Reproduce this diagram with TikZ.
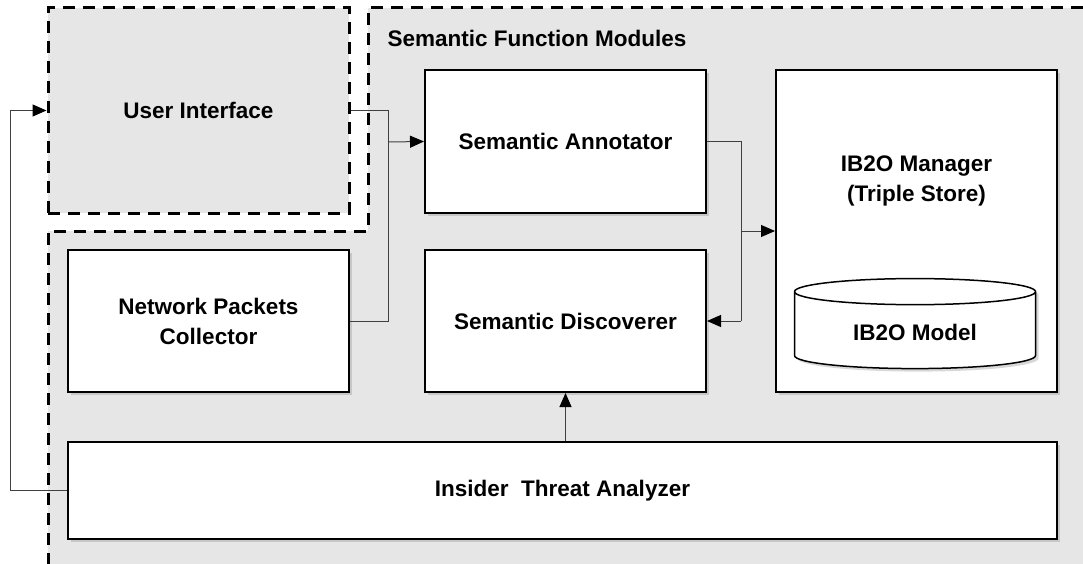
\documentclass[tikz,border=0pt]{standalone}
\usepackage{fontspec}
\setmainfont{Liberation Sans}
\usetikzlibrary{arrows.meta,calc,shapes.geometric,shadows}

\definecolor{areagray}{RGB}{230,230,230}

\tikzset{
  >={Triangle[length=14pt,width=12pt,color=black]},
  dashline/.style={draw=black, line width=3pt, dash pattern=on 12pt off 8pt},
  module/.style={draw=black, line width=2pt, fill=white, align=center,
    minimum width=281pt, minimum height=142pt,
    drop shadow={shadow xshift=3pt, shadow yshift=-3pt, opacity=0.3}},
  link/.style={draw=black!75, line width=1pt},
  arr/.style={link, ->},
  every node/.style={font=\fontsize{22.5}{30}\selectfont\bfseries}
}

\begin{document}
\begin{tikzpicture}[x=1pt,y=-1pt]
\useasboundingbox (0,0) rectangle (1083,564);

% outer area
\fill[areagray] (368,8) -- (1083,8) -- (1083,564) -- (48,564) -- (48,231) -- (368,231) -- cycle;
\draw[dashline] (1083,8) -- (368,8) -- (368,231) -- (48,231) -- (48,564);

\node[anchor=west] (sfm) at (384,38) {Semantic Function Modules};

% user interface
\node[dashline, fill=areagray, minimum width=301pt, minimum height=205pt] (ui) at (198.5,110.5) {User Interface};

% modules
\node[module] (npc) at (208.5,321) {Network Packets\\Collector};
\node[module] (sa) at (565.5,141.5) {Semantic Annotator};
\node[module] (sd) at (565.5,321) {Semantic Discoverer};
\node[module, minimum height=322pt] (mgr) at (916.5,231) {};
\node[align=center] (mgrtext) at (916.5,181) {IB2O Manager\\(Triple Store)};
\node[cylinder, shape border rotate=90, draw=black, line width=1.5pt, fill=white,
  minimum width=241pt, minimum height=90pt, aspect=0.2,
  drop shadow={shadow xshift=3pt, shadow yshift=-3pt, opacity=0.3}] (model) at (915,332) {IB2O Model};
\node[module, minimum width=989pt, minimum height=97pt] (ita) at (562.5,490.5) {Insider~~Threat Analyzer};

% junctions
\coordinate (j1) at (388,142);
\coordinate (j2) at (741,231);
\coordinate (fb) at (10,0);

% connectors
\draw[link] (ui.east) -- (ui.east -| j1) -- (npc.east -| j1) -- (npc.east);
\draw[arr] (j1) -- (sa.west);
\draw[link] (sa.east) -- (sa.east -| j2) -- (sd.east -| j2);
\draw[arr] (sd.east -| j2) -- (sd.east);
\draw[arr] (j2) -- (mgr.west);
\draw[arr] (ita.north -| sd.south) -- (sd.south);
\draw[arr] (ita.west) -- (ita.west -| fb) -- (ui.west -| fb) -- (ui.west);

\end{tikzpicture}
\end{document}
